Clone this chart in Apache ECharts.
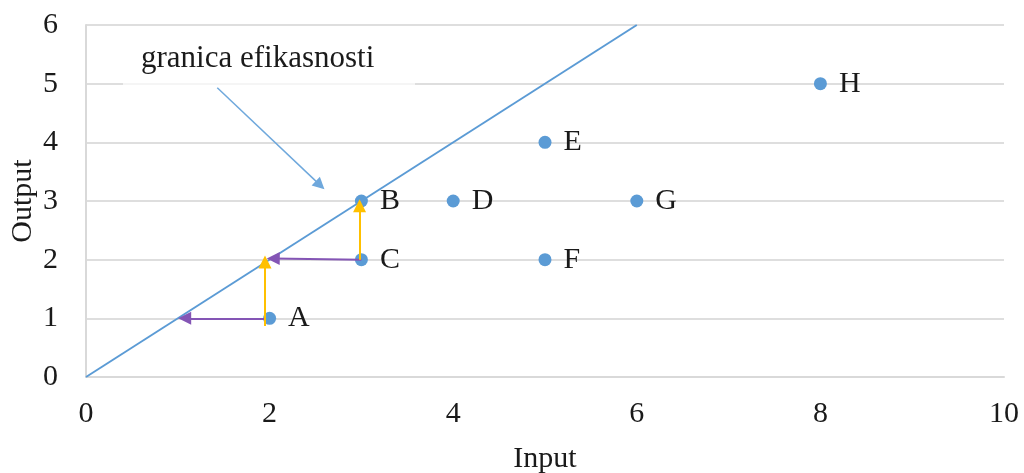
<!DOCTYPE html>
<html>
<head>
<meta charset="utf-8">
<script src="https://cdn.jsdelivr.net/npm/echarts@6/dist/echarts.min.js"></script>
<style>html,body{margin:0;padding:0;background:#fff}#c{width:1024px;height:473px}</style>
</head>
<body>
<div id="c"></div>
<script>
const pointNames = ['A', 'B', 'C', 'D', 'E', 'F', 'G', 'H'];
const inputs = [2, 3, 3, 4, 5, 5, 6, 8];
const outputs = [1, 3, 2, 3, 4, 2, 3, 5];
const frontierX = [0, 6];
const frontierY = [0, 6];
const purpleArrows = [[[1.95, 1], [1.075, 1]], [[3, 2], [2.04, 2.02]]];
const yellowArrows = [[[1.95, 0.87], [1.95, 1.96]], [[2.98, 2], [2.98, 2.92]]];
const annotationText = 'granica efikasnosti';
const annotationArrow = [[1.43, 4.93], [2.55, 3.27]];
const xName = 'Input';
const yName = 'Output';

const SERIF = '"Liberation Serif", "Times New Roman", serif';
const BLUE = '#5B9BD5';

const chart = echarts.init(document.getElementById('c'), null, { renderer: 'canvas' });

const arrowSeries = (arr, color, width, size) => ({
  type: 'lines',
  coordinateSystem: 'cartesian2d',
  z: 4,
  symbol: ['none', 'triangle'],
  symbolSize: size,
  lineStyle: { color: color, width: width, opacity: 1, curveness: 0 },
  itemStyle: { color: color },
  silent: true,
  data: arr.map(c => ({ coords: c }))
});

chart.setOption({
  animation: false,
  backgroundColor: '#fff',
  grid: { left: 86, right: 20, top: 25, bottom: 96, containLabel: false, outerBoundsMode: 'none' },
  xAxis: {
    type: 'value', min: 0, max: 10, interval: 2,
    name: xName, nameLocation: 'middle', nameGap: 67,
    nameTextStyle: { fontFamily: SERIF, fontSize: 30, color: '#1a1a1a' },
    axisLine: { show: true, lineStyle: { color: '#d9d9d9', width: 2 } },
    axisTick: { show: false },
    splitLine: { show: false },
    axisLabel: { fontFamily: SERIF, fontSize: 30, color: '#1a1a1a', margin: 22 }
  },
  yAxis: {
    type: 'value', min: 0, max: 6, interval: 1,
    axisLine: { show: true, lineStyle: { color: '#d9d9d9', width: 2 } },
    axisTick: { show: false },
    splitLine: { show: true, lineStyle: { color: '#dedede', width: 2 } },
    axisLabel: { fontFamily: SERIF, fontSize: 30, color: '#1a1a1a', margin: 28 }
  },
  series: [
    {
      type: 'line', z: 2, silent: true,
      data: frontierX.map((x, i) => [x, frontierY[i]]),
      showSymbol: false, symbol: 'none',
      lineStyle: { color: BLUE, width: 2 }
    },
    {
      type: 'scatter', z: 3, silent: true,
      data: inputs.map((x, i) => ({ value: [x, outputs[i]], name: pointNames[i] })),
      symbolSize: 13,
      itemStyle: { color: BLUE, opacity: 1 },
      label: {
        show: true, position: 'right', distance: 12,
        formatter: p => p.name,
        fontFamily: SERIF, fontSize: 30, color: '#1a1a1a'
      }
    },
    arrowSeries(purpleArrows, '#8455B5', 2, 13),
    arrowSeries(yellowArrows, '#FFC000', 2, 13),
    arrowSeries([annotationArrow], '#6FA8DC', 1.5, 12)
  ],
  graphic: [
    {
      type: 'rect', z: 10, silent: true,
      shape: { x: 123, y: 38, width: 292, height: 48 },
      style: { fill: 'rgba(255,255,255,0.7)' }
    },
    {
      type: 'text', z: 11, silent: true,
      left: 141, top: 43,
      style: { text: annotationText, font: '31px ' + SERIF, fill: '#1a1a1a' }
    },
    {
      type: 'text', z: 11, silent: true,
      x: 23, y: 201, rotation: Math.PI / 2,
      style: { text: yName, font: '30px ' + SERIF, fill: '#1a1a1a', align: 'center', verticalAlign: 'middle' }
    }
  ]
});
</script>
</body>
</html>
